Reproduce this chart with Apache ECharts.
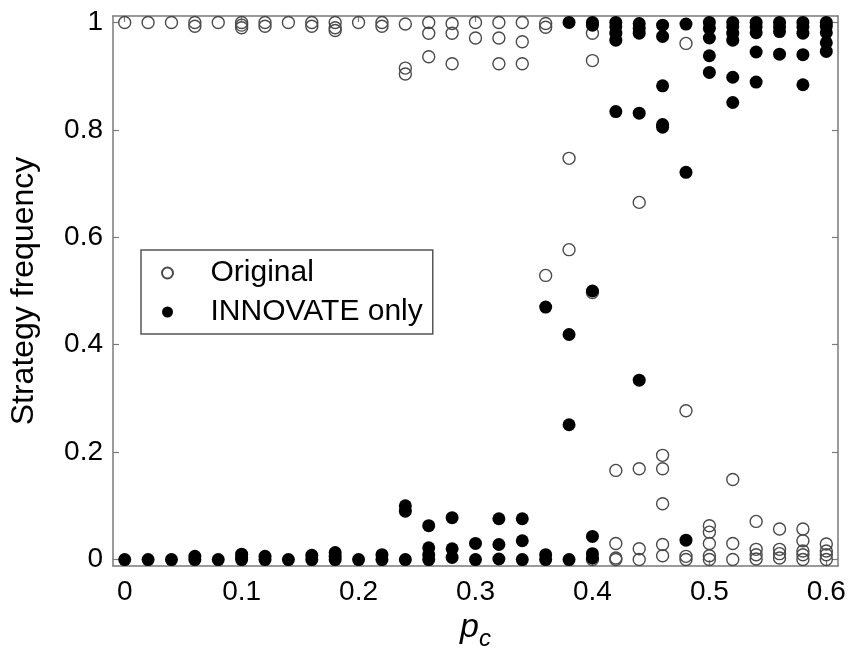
<!DOCTYPE html>
<html>
<head>
<meta charset="utf-8">
<script src="https://cdn.jsdelivr.net/npm/echarts@6/dist/echarts.min.js"></script>
<style>
  html, body { margin: 0; padding: 0; background: #fff; }
  #chart { width: 853px; height: 659px; }
</style>
</head>
<body>
<div id="chart"></div>
<script>
// ---- data ----
const xTicks = [0, 0.1, 0.2, 0.3, 0.4, 0.5, 0.6];
const yTicks = [0, 0.2, 0.4, 0.6, 0.8, 1];
const pcValues = [0, 0.02, 0.04, 0.06, 0.08, 0.10, 0.12, 0.14, 0.16, 0.18, 0.20,
  0.22, 0.24, 0.26, 0.28, 0.30, 0.32, 0.34, 0.36, 0.38, 0.40,
  0.42, 0.44, 0.46, 0.48, 0.50, 0.52, 0.54, 0.56, 0.58, 0.60];
// frequencies of the "Original" runs at each pc
const originalFreq = [
  [1.0], [1.0], [1.0], [1.0, 0.993], [1.0], [1.0, 0.995, 0.99], [1.0, 0.993], [1.0],
  [1.0, 0.993], [1.0, 0.99, 0.985], [1.0], [1.0, 0.993], [0.997, 0.915, 0.904],
  [1.0, 0.98, 0.936], [0.998, 0.98, 0.923], [1.0, 0.971], [1.0, 0.971, 0.923],
  [1.0, 0.964, 0.923], [0.998, 0.991, 0.529], [0.747, 0.577], [0.98, 0.929, 0.497, 0.0],
  [0.166, 0.03, 0.003, 0], [0.665, 0.169, 0.02, 0], [0.194, 0.169, 0.104, 0.028, 0.007],
  [0.961, 0.277, 0.006, 0], [0.063, 0.051, 0.03, 0.007, 0], [0.149, 0.03, 0],
  [0.071, 0.019, 0.009, 0.001], [0.057, 0.019, 0.011, 0.003],
  [0.057, 0.035, 0.016, 0.009, 0], [0.029, 0.016, 0.009, 0]
];
// frequencies of the "INNOVATE only" runs at each pc
const innovateFreq = [
  [0], [0], [0], [0.006, 0], [0], [0.01, 0.004, 0], [0.006, 0], [0], [0.008, 0],
  [0.013, 0.006, 0], [0], [0.009, 0], [0.1, 0.09, 0], [0.063, 0.022, 0.009, 0],
  [0.078, 0.02, 0.004], [0.03, 0], [0.076, 0.028, 0.001], [0.076, 0.035, 0],
  [0.47, 0.009, 0], [1.0, 0.419, 0.251, 0], [1.0, 0.995, 0.5, 0.043, 0.011, 0.003],
  [1.0, 0.992, 0.98, 0.967, 0.834], [0.998, 0.989, 0.98, 0.831, 0.334],
  [0.995, 0.974, 0.882, 0.81, 0.805], [0.997, 0.721, 0.036],
  [1.0, 0.989, 0.971, 0.938, 0.907], [1.0, 0.992, 0.98, 0.967, 0.898, 0.851],
  [1.0, 0.992, 0.981, 0.945, 0.889], [1.0, 0.992, 0.983, 0.941],
  [1.0, 0.992, 0.98, 0.94, 0.884], [1.0, 0.993, 0.981, 0.962, 0.946]
];
const seriesNames = ['Original', 'INNOVATE only'];

function toPoints(freqs) {
  const out = [];
  freqs.forEach((list, i) => list.forEach(v => out.push([pcValues[i], v])));
  return out;
}

const FONT = '"Liberation Sans", Arial, sans-serif';
const frame = '#7a7a7a';

const chart = echarts.init(document.getElementById('chart'), null, { renderer: 'canvas' });

function xAx(pos, showLabel) {
  return {
    type: 'value', position: pos, min: -0.01, max: 0.61,
    name: showLabel ? '{p|p}{c|c}' : '',
    nameLocation: 'middle', nameGap: 34,
    nameTextStyle: {
      rich: {
        p: { fontFamily: FONT, fontStyle: 'italic', fontSize: 34, color: '#000' },
        c: { fontFamily: FONT, fontStyle: 'italic', fontSize: 24, color: '#000', padding: [22, 0, 0, 0] }
      }
    },
    axisLine: { show: true, onZero: false, lineStyle: { color: frame, width: 1.5 } },
    axisTick: { show: true, inside: true, length: 6, customValues: xTicks, lineStyle: { color: frame, width: 1.2 } },
    axisLabel: { show: showLabel, customValues: xTicks, fontFamily: FONT, fontSize: 28, color: '#000', margin: 12 },
    splitLine: { show: false }
  };
}
function yAx(pos, showLabel) {
  return {
    type: 'value', position: pos, min: -0.012, max: 1.012,
    name: showLabel ? 'Strategy frequency' : '',
    nameLocation: 'middle', nameGap: 73,
    nameTextStyle: { fontFamily: FONT, fontSize: 32, color: '#000' },
    axisLine: { show: true, onZero: false, lineStyle: { color: frame, width: 1.5 } },
    axisTick: { show: true, inside: true, length: 6, customValues: yTicks, lineStyle: { color: frame, width: 1.2 } },
    axisLabel: { show: showLabel, customValues: yTicks, fontFamily: FONT, fontSize: 28, color: '#000', margin: 10 },
    splitLine: { show: false }
  };
}

chart.setOption({
  backgroundColor: '#fff',
  animation: false,
  grid: { left: 112, top: 16, width: 726, height: 550, containLabel: false },
  xAxis: [xAx('bottom', true), xAx('top', false)],
  yAxis: [yAx('left', true), yAx('right', false)],
  legend: {
    orient: 'vertical', left: 141, top: 250,
    data: seriesNames,
    backgroundColor: '#fff',
    borderColor: '#555', borderWidth: 1.5, borderRadius: 0,
    padding: [8, 10, 7, 20],
    itemWidth: 40, itemHeight: 11, itemGap: 9,
    textStyle: { fontFamily: FONT, fontSize: 30, color: '#000', lineHeight: 30, padding: [0, 0, 0, 18] }
  },
  series: [
    {
      name: seriesNames[0], type: 'scatter', xAxisIndex: 0, yAxisIndex: 0,
      symbol: 'circle', symbolSize: 12,
      itemStyle: { color: 'rgba(255,255,255,0)', borderColor: '#4a4a4a', borderWidth: 1.4, opacity: 1 },
      data: toPoints(originalFreq), z: 2
    },
    {
      name: seriesNames[1], type: 'scatter', xAxisIndex: 0, yAxisIndex: 0,
      symbol: 'circle', symbolSize: 13,
      itemStyle: { color: '#000', borderWidth: 0, opacity: 1 },
      data: toPoints(innovateFreq), z: 3
    }
  ]
});
</script>
</body>
</html>
